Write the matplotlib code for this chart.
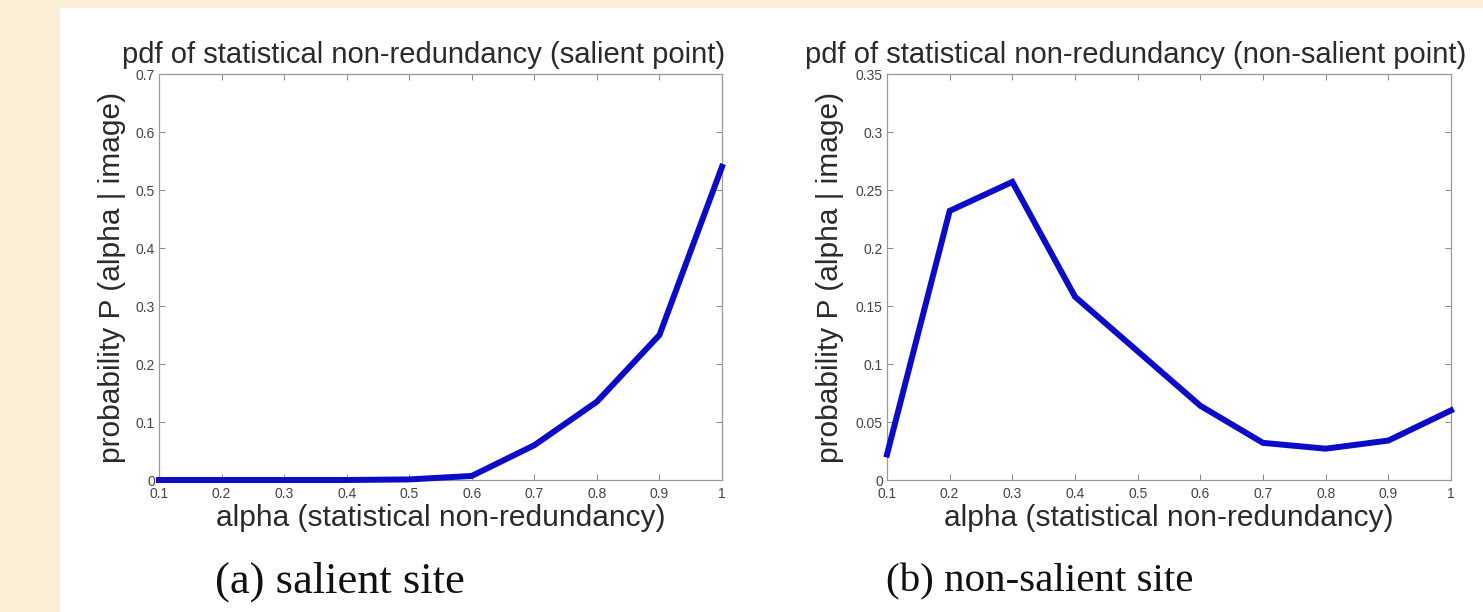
import numpy as np
import matplotlib
matplotlib.use('Agg')
import matplotlib.pyplot as plt
from matplotlib.patches import Rectangle

# -- data -- #
alpha = [0.1, 0.2, 0.3, 0.4, 0.5, 0.6, 0.7, 0.8, 0.9, 1.0]
p_salient = [0.0, 0.0, 0.0, 0.0, 0.001, 0.007, 0.06, 0.135, 0.25, 0.54]
p_nonsalient = [0.022, 0.232, 0.257, 0.158, 0.111, 0.064, 0.032, 0.027, 0.034, 0.06]

xtick_vals = [0.1, 0.2, 0.3, 0.4, 0.5, 0.6, 0.7, 0.8, 0.9, 1.0]
xtick_labels = ['0.1', '0.2', '0.3', '0.4', '0.5', '0.6', '0.7', '0.8', '0.9', '1']
yticks_a = [0, 0.1, 0.2, 0.3, 0.4, 0.5, 0.6, 0.7]
yticks_b = [0, 0.05, 0.1, 0.15, 0.2, 0.25, 0.3, 0.35]

titles = ['pdf of statistical non-redundancy (salient point)',
          'pdf of statistical non-redundancy (non-salient point)']
captions = ['(a) salient site', '(b) non-salient site']

plt.rcParams['font.family'] = 'Liberation Sans'
txtcol = '#2a2a2a'

fig = plt.figure(figsize=(14.83, 6.12), dpi=100)
fig.patch.set_facecolor('#fcefd8')
# white page on top of the beige slide background
fig.patches.append(Rectangle((60/1483, 0), 1 - 60/1483, 1 - 8/612, transform=fig.transFigure,
                             facecolor='white', edgecolor='none', zorder=-5))

ax1 = fig.add_axes([159/1483, 132/612, 563/1483, 406/612])
ax2 = fig.add_axes([887/1483, 132/612, 564/1483, 406/612])

# (axes, values, yticks, ytick labels, ylabel x, title x) -- positions in axes coords
panels = [(ax1, p_salient, yticks_a, ['0', '0.1', '0.2', '0.3', '0.4', '0.5', '0.6', '0.7'], -0.0835, 0.47),
          (ax2, p_nonsalient, yticks_b, ['0', '0.05', '0.1', '0.15', '0.2', '0.25', '0.3', '0.35'], -0.101, 0.44)]

for i, (ax, vals, yt, ytl, ylab_x, tx) in enumerate(panels):
    ax.plot(alpha, vals, color='#0b0bc8', lw=4.3, solid_joinstyle='miter', clip_on=False, zorder=3)
    ax.set_xlim(0.1, 1.0)
    ax.set_ylim(yt[0], yt[-1])
    ax.set_xticks(xtick_vals)
    ax.set_xticklabels(xtick_labels)
    ax.set_yticks(yt)
    ax.set_yticklabels(ytl)
    ax.tick_params(direction='in', length=4, width=0.7, color='#888888', top=True, right=True,
                   labelsize=10, labelcolor='#444444')
    ax.tick_params(axis='x', pad=5)
    ax.tick_params(axis='y', pad=3)
    for sp in ax.spines.values():
        sp.set_color('#999999')
        sp.set_linewidth(0.9)
    ax.set_title(titles[i], fontsize=21, color=txtcol, pad=8, x=tx)
    ax.set_xlabel('alpha (statistical non-redundancy)', fontsize=21.5, color=txtcol, va='center')
    ax.xaxis.set_label_coords(0.5, -0.0936)
    ax.set_ylabel('probability P (alpha | image)', fontsize=21.5, color=txtcol, va='center')
    ax.yaxis.set_label_coords(ylab_x, 0.5)

fig.text(340/1483, 1 - 582/612, captions[0], fontsize=32, family='Liberation Serif',
         color='#111111', ha='center', va='center')
fig.text(1040/1483, 1 - 582/612, captions[1], fontsize=29.5, family='Liberation Serif',
         color='#111111', ha='center', va='center')

plt.savefig('out.png', dpi=100, facecolor=fig.get_facecolor())
plt.close('all')
